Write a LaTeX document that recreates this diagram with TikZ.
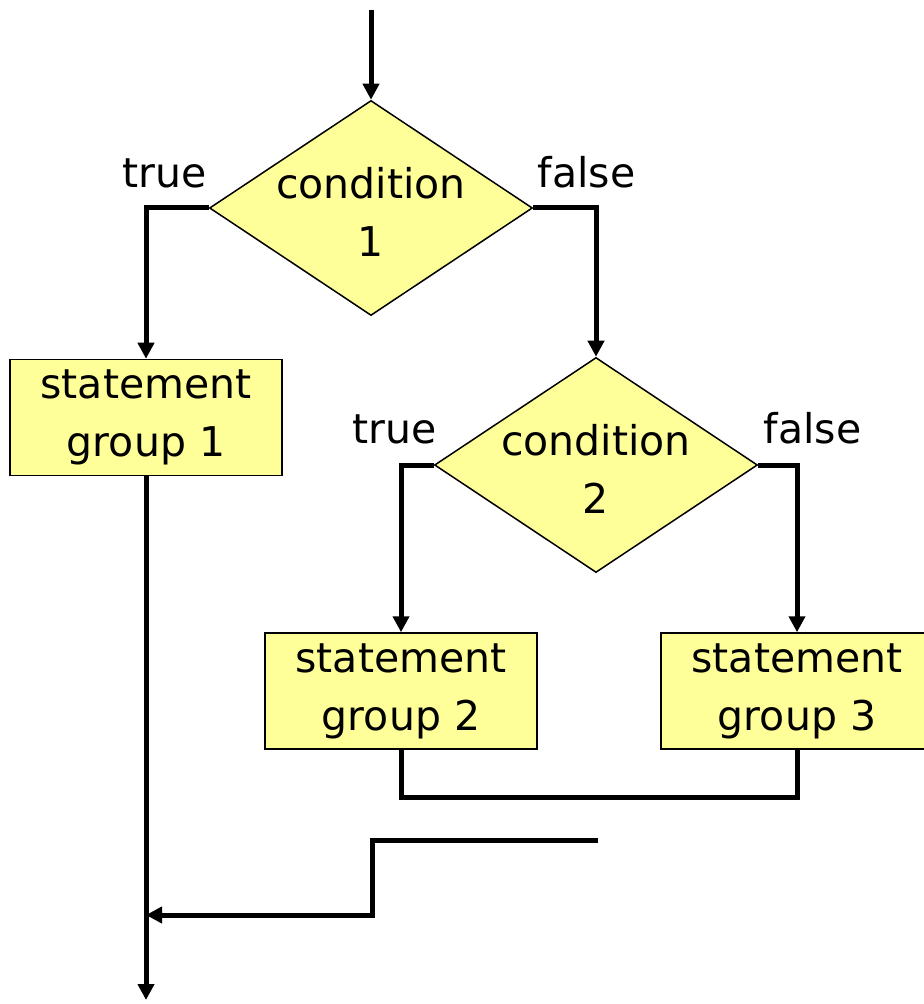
\documentclass[tikz,border=0pt]{standalone}
\usepackage{fontspec}
\setmainfont{DejaVu Sans}
\usetikzlibrary{arrows.meta,shapes.geometric,positioning}
\definecolor{boxyellow}{HTML}{FFFF99}

\begin{document}
\begin{tikzpicture}[x=0.5pt,y=-0.5pt,line width=2.5pt,>={Triangle[length=8pt,width=8pt]},
  font=\fontsize{20.5}{29}\selectfont]
\tikzset{
  cond/.style={diamond,draw,line width=0.75pt,fill=boxyellow,minimum width=161.5pt,
    minimum height=107.5pt,inner sep=0pt},
  group/.style={rectangle,draw,line width=0.75pt,fill=boxyellow,minimum width=136pt,
    minimum height=58pt,align=center,inner sep=0pt},
  tag/.style={inner sep=0pt}
}
\useasboundingbox (0,0) rectangle (923,1004);
% ---- decisions ----
\coordinate (start) at (371,10);
\node[cond,label={[align=center,yshift=-2pt]center:condition\\1}] (d1) at (371,208) {};
\node[cond,label={[align=center,yshift=-2pt]center:condition\\2}] (d2) at (596,465) {};
\node[tag,anchor=base east] (t1) at ([yshift=10pt]d1.west) {true};
\node[tag,anchor=base west] (f1) at ([xshift=1pt,yshift=10pt]d1.east) {false};
\node[tag,anchor=base east] (t2) at ([xshift=2.5pt,yshift=10.5pt]d2.west) {true};
\node[tag,anchor=base west] (f2) at ([xshift=1.5pt,yshift=10.5pt]d2.east) {false};
% ---- statement groups ----
\node[group] (b1) at (146,417.5) {statement\\group 1};
\node[group] (b2) at (401,691) {statement\\group 2};
\node[group] (b3) at (797,691) {statement\\group 3};
% ---- flow ----
\draw[->] (start) -- (d1.north);
\draw[->] (d1.west) -| (b1.north);
\draw[->] (d1.east) -| (d2.north);
\draw[->] (d2.west) -| (b2.north);
\draw[->] (d2.east) -| (b3.north);
\draw (b2.south) -- ++(0,48) -| (b3.south);
\coordinate (s) at (598,840);
\coordinate (k) at (372,915);
\coordinate (j) at (146,915);
\coordinate (end) at (146,1000);
\draw[->] (s) -| (k) -- (j);
\draw[->] (b1.south) -- (end);
\end{tikzpicture}
\end{document}
